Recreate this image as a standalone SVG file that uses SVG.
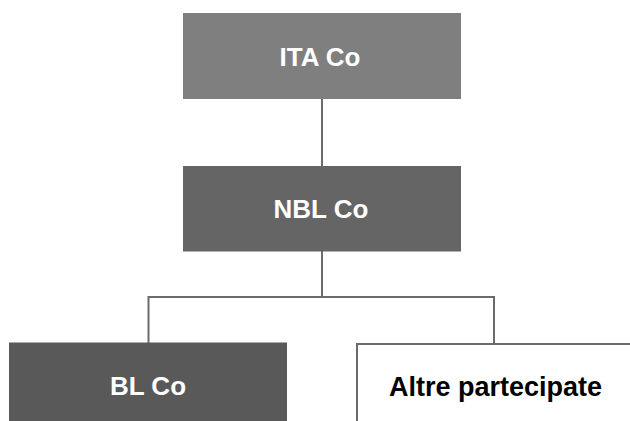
<svg xmlns="http://www.w3.org/2000/svg" width="630" height="421" viewBox="0 0 630 421">
<style>
.lbl{font-family:"Liberation Sans",Arial,sans-serif;font-weight:bold;font-size:26px;text-anchor:middle}
.w{fill:#ffffff}
.k{fill:#000000}
.conn{stroke:#6b6b6b;stroke-width:2;fill:none}
</style>
<rect width="630" height="421" fill="#ffffff"/>
<g id="connectors">
<line class="conn" x1="322" y1="99" x2="322" y2="166"/>
<polyline class="conn" points="322,251 322,297 148.5,297 148.5,343"/>
<polyline class="conn" points="322,297 494,297 494,344"/>
</g>
<g id="ita">
<rect x="183" y="13" width="278" height="86" fill="#7f7f7f"/>
<text class="lbl w" x="320" y="66">ITA Co</text>
</g>
<g id="nbl">
<rect x="183" y="166" width="278" height="85.5" fill="#656565"/>
<text class="lbl w" x="321" y="218">NBL Co</text>
</g>
<g id="bl">
<rect x="9" y="342.5" width="278" height="80" fill="#595959"/>
<text class="lbl w" x="148" y="395">BL Co</text>
</g>
<g id="altre">
<rect x="357" y="344" width="280" height="80" fill="#ffffff" stroke="#6b6b6b" stroke-width="2"/>
<text class="lbl k" x="495.5" y="395.5" style="font-size:27px">Altre partecipate</text>
</g>
</svg>
